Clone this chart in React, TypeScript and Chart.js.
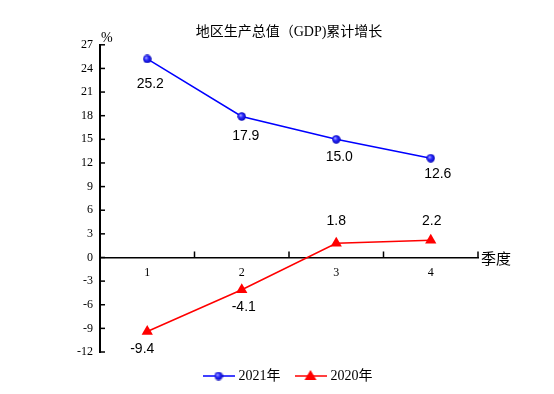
import React, { useEffect, useRef } from "react";
import { Chart, registerables } from "chart.js";

Chart.register(...registerables);

// ---- data ----
const quarters = ["1", "2", "3", "4"];
const growth2021 = [25.2, 17.9, 15.0, 12.6];
const growth2020 = [-9.4, -4.1, 1.8, 2.2];
const seriesNames = ["2021年", "2020年"];
const yMin = -12;
const yMax = 27;
const yStep = 3;
const titleText = "地区生产总值（GDP)累计增长";
const yUnit = "%";
const xUnit = "季度";

// ---- styles ----
const SERIF = "'Liberation Serif', 'Times New Roman', 'Noto Sans CJK SC', serif";
const SANS = "'Liberation Sans', Arial, sans-serif";
const CJK = "'Noto Sans CJK SC', sans-serif";
const BLUE = "#0000FF";
const RED = "#FF0000";

// label offsets relative to each point (dx, dy of text centre)
const labelOffsets = [
  [[3, 25], [4, 20], [3, 18], [7, 16]],
  [[-5, 18], [2, 17], [0, -22], [1, -19]],
];

function makeSphere(d: number): HTMLCanvasElement {
  const c = document.createElement("canvas");
  c.width = d;
  c.height = d;
  const g = c.getContext("2d")!;
  const r = d / 2;
  const grad = g.createRadialGradient(r * 0.7, r * 0.7, 0, r, r, r);
  grad.addColorStop(0, "#b8b8ff");
  grad.addColorStop(0.45, "#2a2aff");
  grad.addColorStop(1, "#0000b0");
  g.fillStyle = grad;
  g.beginPath();
  g.arc(r, r, r - 0.3, 0, Math.PI * 2);
  g.fill();
  return c;
}

function makeLegendIcon(kind: "circle" | "triangle"): HTMLCanvasElement {
  const w = 32;
  const h = 14;
  const c = document.createElement("canvas");
  c.width = w;
  c.height = h;
  const g = c.getContext("2d")!;
  const color = kind === "circle" ? BLUE : RED;
  g.strokeStyle = color;
  g.lineWidth = 1.5;
  g.beginPath();
  g.moveTo(0, h / 2);
  g.lineTo(w, h / 2);
  g.stroke();
  if (kind === "circle") {
    const s = makeSphere(9);
    g.drawImage(s, w / 2 - 4.5, h / 2 - 4.5);
  } else {
    g.fillStyle = RED;
    g.beginPath();
    g.moveTo(w / 2, h / 2 - 6);
    g.lineTo(w / 2 + 6, h / 2 + 4);
    g.lineTo(w / 2 - 6, h / 2 + 4);
    g.closePath();
    g.fill();
  }
  return c;
}

const decorPlugin = {
  id: "decor",
  afterDraw(chart: any) {
    const { ctx, chartArea } = chart;
    const x = chart.scales.x;
    const y = chart.scales.y;
    ctx.save();
    ctx.strokeStyle = "#000";
    ctx.lineWidth = 1.5;
    // inward y ticks
    y.ticks.forEach((t: any) => {
      const py = y.getPixelForValue(t.value);
      ctx.beginPath();
      ctx.moveTo(chartArea.left, py);
      ctx.lineTo(chartArea.left + 5, py);
      ctx.stroke();
    });
    // upward x ticks at category boundaries
    const y0 = y.getPixelForValue(0);
    for (let i = 1; i <= quarters.length; i++) {
      const px = x.getPixelForValue(i - 0.5);
      ctx.beginPath();
      ctx.moveTo(px, y0);
      ctx.lineTo(px, y0 - 6);
      ctx.stroke();
    }
    ctx.fillStyle = "#000";
    ctx.font = `14px ${SERIF}`;
    ctx.textAlign = "left";
    ctx.textBaseline = "alphabetic";
    ctx.fillText(yUnit, chartArea.left + 1, chartArea.top - 3);
    ctx.font = `15px ${CJK}`;
    ctx.textBaseline = "middle";
    ctx.fillText(xUnit, x.right + 3, y0 + 1);
    ctx.restore();
  },
};

const valueLabelPlugin = {
  id: "valueLabels",
  afterDatasetsDraw(chart: any) {
    const { ctx } = chart;
    ctx.save();
    ctx.fillStyle = "#000";
    ctx.font = `14px ${SANS}`;
    ctx.textAlign = "center";
    ctx.textBaseline = "middle";
    chart.data.datasets.forEach((ds: any, di: number) => {
      const meta = chart.getDatasetMeta(di);
      meta.data.forEach((pt: any, i: number) => {
        const v = ds.data[i] as number;
        const [dx, dy] = labelOffsets[di][i];
        ctx.fillText(v.toFixed(1), pt.x + dx, pt.y + dy);
      });
    });
    ctx.restore();
  },
};

export default function App() {
  const ref = useRef<HTMLCanvasElement | null>(null);

  useEffect(() => {
    if (!ref.current) return;
    const sphere = makeSphere(9);
    const icons = [makeLegendIcon("circle"), makeLegendIcon("triangle")];

    const chart = new Chart(ref.current, {
      type: "line",
      data: {
        labels: quarters,
        datasets: [
          {
            label: seriesNames[0],
            data: growth2021,
            borderColor: BLUE,
            backgroundColor: BLUE,
            borderWidth: 1.5,
            pointStyle: sphere as any,
            pointRadius: 4.5,
            tension: 0,
          },
          {
            label: seriesNames[1],
            data: growth2020,
            borderColor: RED,
            backgroundColor: RED,
            borderWidth: 1.5,
            pointStyle: "triangle",
            pointRadius: 6.5,
            pointBorderWidth: 0,
            pointBackgroundColor: RED,
            tension: 0,
          },
        ],
      },
      options: {
        responsive: false,
        animation: false,
        devicePixelRatio: 1,
        layout: { padding: { top: 24, left: 0, right: 76, bottom: 1 } },
        scales: {
          x: {
            type: "category",
            offset: true,
            position: { y: 0 } as any,
            grid: { display: true, drawOnChartArea: false, drawTicks: false },
            border: { display: true, color: "#000", width: 1.5 },
            ticks: {
              color: "#000",
              padding: 8,
              font: { family: SERIF, size: 12 },
              maxRotation: 0,
            },
          },
          y: {
            type: "linear",
            min: yMin,
            max: yMax,
            grid: { display: true, drawOnChartArea: false, drawTicks: false },
            border: { display: true, color: "#000", width: 2 },
            ticks: {
              stepSize: yStep,
              color: "#000",
              padding: 7,
              font: { family: SERIF, size: 12 },
            },
            afterFit: (scale: any) => {
              scale.width = 100;
            },
          },
        },
        plugins: {
          title: {
            display: true,
            text: titleText,
            color: "#000",
            fullSize: false,
            font: { family: SERIF, size: 14, weight: "normal" },
            padding: { top: 0, bottom: 4 },
          },
          legend: {
            display: true,
            position: "bottom",
            fullSize: false,
            labels: {
              usePointStyle: true,
              pointStyleWidth: 26,
              padding: 17,
              color: "#000",
              font: { family: SERIF, size: 14 },
              generateLabels: (c: any) => {
                const base = Chart.defaults.plugins.legend.labels.generateLabels(c);
                return base.map((item: any, i: number) => ({
                  ...item,
                  pointStyle: icons[i],
                  fontColor: "#000",
                }));
              },
            },
          },
          tooltip: { enabled: false },
        },
      },
      plugins: [decorPlugin, valueLabelPlugin],
    });
    return () => chart.destroy();
  }, []);

  return (
    <div style={{ position: "absolute", left: 0, top: 0, width: 554, height: 394, background: "#fff" }}>
      <canvas ref={ref} width={554} height={394} style={{ width: 554, height: 394 }} />
    </div>
  );
}
